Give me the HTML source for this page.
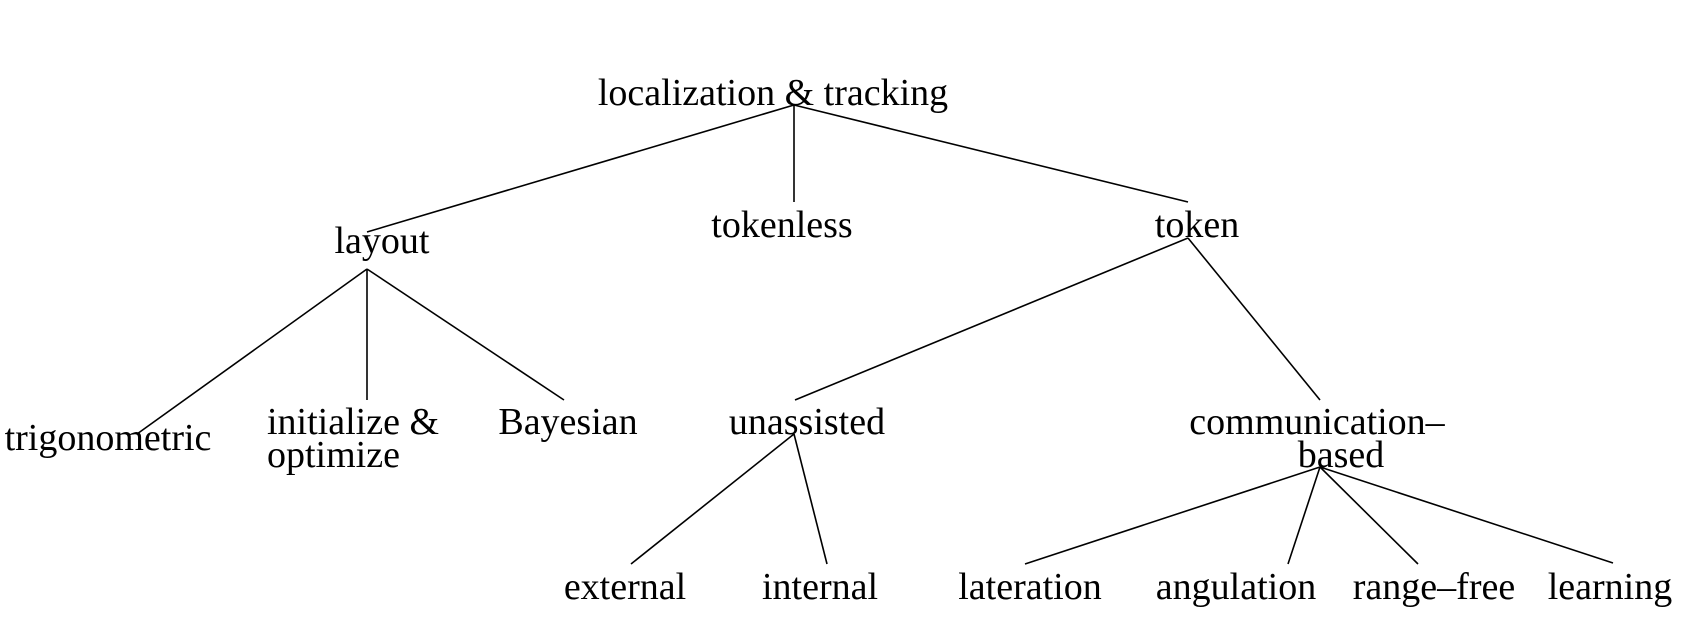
<!DOCTYPE html>
<html><head><style>html,body{margin:0;padding:0;background:#fff}svg{display:block}</style></head><body>
<svg width="1684" height="628" viewBox="0 0 1684 628" xmlns="http://www.w3.org/2000/svg">
<g stroke="#000" stroke-width="1.6" fill="none">
<line x1="794" y1="105" x2="367" y2="232"/>
<line x1="794" y1="105" x2="794" y2="202"/>
<line x1="794" y1="105" x2="1188" y2="202"/>
<line x1="367" y1="269" x2="137" y2="434"/>
<line x1="367" y1="269" x2="367" y2="400"/>
<line x1="367" y1="269" x2="564" y2="400"/>
<line x1="1188" y1="238" x2="795" y2="400"/>
<line x1="1188" y1="238" x2="1320" y2="400"/>
<line x1="794" y1="434" x2="631" y2="564"/>
<line x1="794" y1="434" x2="827" y2="564"/>
<line x1="1320" y1="467" x2="1025" y2="564"/>
<line x1="1320" y1="467" x2="1288" y2="564"/>
<line x1="1320" y1="467" x2="1418" y2="564"/>
<line x1="1320" y1="467" x2="1613" y2="563"/>
</g>
<g font-family="Liberation Serif, serif" font-size="38" fill="#000" text-anchor="middle">
<text x="773" y="105">localization &amp; tracking</text>
<text x="382" y="253">layout</text>
<text x="782" y="237">tokenless</text>
<text x="1197" y="237">token</text>
<text x="108" y="450">trigonometric</text>
<text x="267" y="434" text-anchor="start">initialize &amp;</text>
<text x="267" y="467" text-anchor="start">optimize</text>
<text x="568" y="434">Bayesian</text>
<text x="807" y="434">unassisted</text>
<text x="1317" y="434">communication–</text>
<text x="1341" y="467">based</text>
<text x="625" y="599">external</text>
<text x="820" y="599">internal</text>
<text x="1030" y="599">lateration</text>
<text x="1236" y="599">angulation</text>
<text x="1434" y="599">range–free</text>
<text x="1610" y="599">learning</text>
</g>
</svg>
</body></html>
